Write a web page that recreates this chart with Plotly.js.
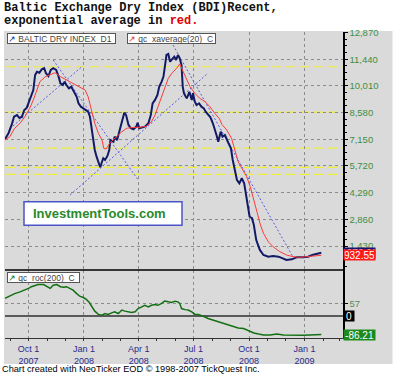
<!DOCTYPE html>
<html>
<head>
<meta charset="utf-8">
<script src="https://cdn.plot.ly/plotly-3.0.1.min.js"></script>
<style>html,body{margin:0;padding:0;background:#fff;}#chart{width:400px;height:374px;}</style>
</head>
<body>
<div id="chart"></div>
<script>
// ---------- DATA ----------
const bdiDates = ["2007-08-23","2007-08-29","2007-09-03","2007-09-07","2007-09-12","2007-09-16","2007-09-20","2007-09-24","2007-09-28","2007-10-02","2007-10-06","2007-10-09","2007-10-12","2007-10-15","2007-10-19","2007-10-23","2007-10-27","2007-10-30","2007-11-03","2007-11-07","2007-11-11","2007-11-16","2007-11-20","2007-11-23","2007-11-27","2007-11-30","2007-12-03","2007-12-07","2007-12-11","2007-12-15","2007-12-20","2007-12-23","2007-12-27","2007-12-31","2008-01-04","2008-01-08","2008-01-11","2008-01-14","2008-01-16","2008-01-19","2008-01-22","2008-01-25","2008-01-28","2008-01-31","2008-02-02","2008-02-05","2008-02-09","2008-02-12","2008-02-14","2008-02-19","2008-02-21","2008-02-25","2008-02-28","2008-03-04","2008-03-08","2008-03-11","2008-03-15","2008-03-19","2008-03-23","2008-03-28","2008-03-30","2008-04-02","2008-04-06","2008-04-11","2008-04-17","2008-04-21","2008-04-24","2008-04-28","2008-05-02","2008-05-05","2008-05-09","2008-05-12","2008-05-14","2008-05-17","2008-05-20","2008-05-23","2008-05-26","2008-05-30","2008-06-02","2008-06-05","2008-06-08","2008-06-11","2008-06-13","2008-06-15","2008-06-18","2008-06-20","2008-06-24","2008-06-28","2008-06-30","2008-07-03","2008-07-06","2008-07-10","2008-07-14","2008-07-18","2008-07-21","2008-07-25","2008-07-29","2008-08-02","2008-08-05","2008-08-08","2008-08-11","2008-08-15","2008-08-18","2008-08-22","2008-08-28","2008-09-01","2008-09-04","2008-09-08","2008-09-11","2008-09-15","2008-09-19","2008-09-23","2008-09-26","2008-09-28","2008-10-02","2008-10-06","2008-10-09","2008-10-13","2008-10-19","2008-10-25","2008-11-02","2008-11-10","2008-11-19","2008-11-26","2008-12-02","2008-12-11","2008-12-19","2008-12-30","2009-01-07","2009-01-14","2009-01-22","2009-01-29"];
const bdiValues = [7150,7490,7920,8360,8450,8290,8360,8720,8830,9170,9620,9790,10600,10770,10720,10900,10960,10690,10540,10870,10960,10870,10510,10150,10060,10240,10060,9880,9970,9700,9430,9080,8900,8810,8720,8630,8360,7650,7110,6580,6220,5860,5650,5950,6130,6040,6260,6580,7110,7020,7290,7110,7470,8010,8580,8450,7920,7740,7690,7830,8040,7740,7790,7830,8010,8450,9080,9260,9530,9970,10240,10510,10960,11670,11720,11310,11440,11580,11400,11670,11490,11130,9970,9620,9430,9350,9700,9260,9620,9170,8990,9080,8900,8810,8630,8450,8330,8010,7740,7380,7020,7560,7290,7380,6940,6670,6040,5410,4970,4790,5060,4790,4260,3720,3000,2920,2560,1750,1220,950,860,895,860,772,681,718,825,825,858,949,1002,1072];

const emaDates = ["2007-08-23","2007-08-31","2007-09-08","2007-09-17","2007-09-25","2007-10-03","2007-10-09","2007-10-15","2007-10-20","2007-10-29","2007-11-06","2007-11-14","2007-11-23","2007-12-03","2007-12-14","2007-12-25","2008-01-03","2008-01-08","2008-01-14","2008-01-19","2008-01-25","2008-01-31","2008-02-03","2008-02-07","2008-02-13","2008-02-24","2008-03-04","2008-03-12","2008-03-23","2008-04-03","2008-04-14","2008-04-22","2008-04-28","2008-05-03","2008-05-09","2008-05-14","2008-05-20","2008-05-26","2008-06-03","2008-06-08","2008-06-14","2008-06-19","2008-06-25","2008-07-03","2008-07-11","2008-07-20","2008-07-28","2008-08-05","2008-08-13","2008-08-17","2008-08-25","2008-09-02","2008-09-08","2008-09-13","2008-09-19","2008-09-27","2008-10-03","2008-10-09","2008-10-14","2008-10-20","2008-10-25","2008-11-02","2008-11-10","2008-11-21","2008-12-02","2008-12-13","2008-12-24","2009-01-04","2009-01-14","2009-01-29"];
const emaValues = [7110,7290,7740,8010,8360,8810,9260,9790,10240,10510,10600,10720,10510,10330,10150,9970,9790,9430,8720,8010,7470,7110,6660,6630,6950,7290,7560,7740,7790,7790,7860,8090,8450,8900,9430,9970,10420,10690,10960,11190,10770,10330,9970,9620,9350,9170,8900,8550,8250,7950,7650,7200,6580,5950,5600,5150,4610,3900,3180,2560,2110,1660,1390,1130,950,858,825,858,895,932.55];

const rocDates = ["2007-08-23","2007-08-31","2007-09-08","2007-09-17","2007-09-25","2007-10-01","2007-10-06","2007-10-12","2007-10-17","2007-10-26","2007-10-31","2007-11-06","2007-11-11","2007-11-17","2007-11-23","2007-11-28","2007-12-03","2007-12-09","2007-12-14","2007-12-20","2007-12-25","2007-12-31","2008-01-05","2008-01-10","2008-01-14","2008-01-19","2008-01-25","2008-01-31","2008-02-05","2008-02-10","2008-02-16","2008-02-21","2008-02-27","2008-03-04","2008-03-09","2008-03-15","2008-03-20","2008-03-26","2008-03-31","2008-04-06","2008-04-11","2008-04-17","2008-04-22","2008-04-28","2008-05-03","2008-05-09","2008-05-14","2008-05-20","2008-05-26","2008-05-31","2008-06-05","2008-06-08","2008-06-11","2008-06-17","2008-06-22","2008-06-28","2008-07-03","2008-07-09","2008-07-14","2008-07-20","2008-07-25","2008-08-03","2008-08-11","2008-08-19","2008-08-28","2008-09-05","2008-09-13","2008-09-22","2008-09-30","2008-10-09","2008-10-17","2008-10-25","2008-11-05","2008-11-16","2008-11-27","2008-12-08","2008-12-19","2008-12-30","2009-01-10","2009-01-18","2009-01-29"];
const rocValues = [81,93,103,111,119,127,135,142,145,145,135,127,142,145,135,132,135,127,119,103,91,85,76,62,42,22,7,3,11,7,14,19,11,27,22,19,16,19,34,42,49,42,49,53,49,58,69,65,62,68,65,58,34,29,27,19,8,7,3,-5,-12,-20,-30,-35,-43,-51,-56,-58,-69,-79,-84,-88,-88,-84,-88,-89,-89,-89,-88,-87,-86.21];

const levelValues = [11040, 8610, 6680, 5650, 5270];   // yellow horizontal levels

const trendStartDates = ["2007-09-05","2007-11-11","2007-12-09","2008-05-28"];
const trendStartValues = [7860, 11400, 4165, 12200];
const trendEndDates = ["2007-12-30","2008-03-31","2008-07-25","2008-12-13"];
const trendEndValues = [11080, 4970, 10700, 842];

const xTickDates = ["2007-10-01","2008-01-01","2008-04-01","2008-07-01","2008-10-01","2009-01-01"];
const xTickLabels = ["Oct 1<br>2007","Jan 1<br>2008","Apr 1<br>2008","Jul 1<br>2008","Oct 1<br>2008","Jan 1<br>2009"];
const rocTickValues = [57];
const xRange = ["2007-08-23","2009-03-06"];

// ---------- LAYOUT HELPERS ----------
const ML = 5, MR = 57, MT = 32, MB = 36, W = 400, H = 374;
const PW = W - ML - MR, PH = H - MT - MB;
const px = x => (x - ML) / PW;
const py = y => (H - MB - y) / PH;
const split = py(270);

const gridCol = '#8c8c8c';
const traces = [];
for (let i = 0; i < trendStartDates.length; i++) {
  traces.push({x:[trendStartDates[i], trendEndDates[i]], y:[trendStartValues[i], trendEndValues[i]],
    type:'scatter', mode:'lines', xaxis:'x', yaxis:'y', hoverinfo:'skip',
    line:{color:'#5a5ae6', width:1, dash:'2px,2px'}});
}
traces.push({x:bdiDates, y:bdiValues, type:'scatter', mode:'lines', xaxis:'x', yaxis:'y',
  line:{color:'#121a66', width:2}});
traces.push({x:emaDates, y:emaValues, type:'scatter', mode:'lines', xaxis:'x', yaxis:'y',
  line:{color:'#ff3a3a', width:1}});
traces.push({x:rocDates, y:rocValues, type:'scatter', mode:'lines', xaxis:'x2', yaxis:'y2',
  line:{color:'#127012', width:1.5}});

const shapes = [
  {type:'rect', xref:'paper', yref:'paper', x0:px(4), x1:px(392.5), y0:py(364), y1:py(31),
   fillcolor:'#dadada', line:{width:0}, layer:'below'},
  {type:'line', xref:'paper', yref:'paper', x0:0, x1:1, y0:split, y1:split,
   line:{color:'#000', width:1.5}, layer:'above'},
  {type:'rect', xref:'paper', yref:'paper', x0:px(24), x1:px(182), y0:py(225.3), y1:py(201.7),
   fillcolor:'#ffffff', line:{color:'#4a55c8', width:1.5}, layer:'above'}
];
levelValues.forEach(v => shapes.push({type:'line', xref:'paper', yref:'y', x0:0, x1:1, y0:v, y1:v,
  line:{color:'#eded3a', width:1.2, dash:'10px,4px'}, layer:'below'}));

function boxLabel(text, x, y, w, color) {
  return {xref:'paper', yref:'paper', x:px(x), y:py(y), xanchor:'left', yanchor:'top',
    text:'<span style="color:' + color + '">↗</span> ' + text, showarrow:false, align:'left',
    font:{family:'Arial, Liberation Sans', size:8.5, color:'#444'},
    bgcolor:'#ffffff', bordercolor:'#555', borderwidth:1, borderpad:0, width:w, height:9};
}
function valueLabel(v, yref, bg, w) {
  return {xref:'paper', yref:yref, x:1, y:v, xanchor:'left', yanchor:'middle',
    text:(v === 0 ? '0' : v.toFixed(2)), showarrow:false,
    font:{family:'Arial, Liberation Sans', size:10, color:'#ffffff'},
    bgcolor:bg, borderpad:0.5, width:w, height:9};
}

const annotations = [
  {xref:'paper', yref:'paper', x:px(3), y:py(7.5), xanchor:'left', yanchor:'middle', showarrow:false,
   text:'<b>Baltic Exchange Dry Index (BDI)Recent,</b>', borderpad:0,
   font:{family:'Liberation Mono, Courier New, monospace', size:12, color:'#111'}},
  {xref:'paper', yref:'paper', x:px(3), y:py(21.5), xanchor:'left', yanchor:'middle', showarrow:false,
   text:'<b>exponential average in <span style="color:#e00000">red.</span></b>', borderpad:0,
   font:{family:'Liberation Mono, Courier New, monospace', size:12, color:'#111'}},
  boxLabel('BALTIC DRY INDEX_D1', 6.7, 32.5, 107, '#2030a0'),
  boxLabel('qc_xaverage(20)_C', 127, 32.5, 87, '#e03030'),
  boxLabel('qc_roc(200)_C', 6.7, 272.3, 71, '#127012'),
  {xref:'paper', yref:'paper', x:px(31), y:py(213.5), xanchor:'left', yanchor:'middle', showarrow:false,
   text:'<b>InvestmentTools.com</b>', font:{family:'Arial, Liberation Sans', size:13, color:'#2a8a2a'}},
  valueLabel(bdiValues[bdiValues.length-1], 'y', '#141470', 30),
  valueLabel(emaValues[emaValues.length-1], 'y', '#ff1a1a', 30),
  valueLabel(0, 'y2', '#000000', 9),
  valueLabel(rocValues[rocValues.length-1], 'y2', '#1e8a1e', 30),
  {xref:'paper', yref:'paper', x:px(1), y:py(369), xanchor:'left', yanchor:'middle', showarrow:false,
   text:'Chart created with NeoTicker EOD © 1998-2007 TickQuest Inc.', borderpad:0,
   font:{family:'Arial, Liberation Sans', size:9.2, color:'#000'}}
];

const xCommon = {type:'date', range:xRange, tickmode:'array', tickvals:xTickDates,
  showgrid:true, gridcolor:gridCol, griddash:'3px,3px', gridwidth:1, zeroline:false};

const layout = {
  width:W, height:H, margin:{l:ML, r:MR, t:MT, b:MB, pad:0},
  paper_bgcolor:'#ffffff', plot_bgcolor:'#dadada', showlegend:false,
  font:{family:'Arial, Liberation Sans', size:9.5},
  xaxis:Object.assign({}, xCommon, {anchor:'y', showticklabels:false, ticks:'', showline:false}),
  xaxis2:Object.assign({}, xCommon, {anchor:'y2', ticktext:xTickLabels, ticks:'outside', ticklen:2,
    tickcolor:'#333', showline:true, linecolor:'#333', linewidth:1,
    tickfont:{family:'Arial, Liberation Sans', size:9, color:'#2a2a8a'},
    minor:{tickmode:'linear', tick0:'2007-09-01', dtick:'M1', ticks:'outside', ticklen:2, tickcolor:'#333', showgrid:false}}),
  yaxis:{domain:[split, 1], anchor:'x', side:'right', range:[145, 12902], tickmode:'linear', tick0:0, dtick:1430,
    tickformat:',d', ticks:'outside', ticklen:3, tickcolor:'#000', showline:true, linecolor:'#000', linewidth:1.5,
    tickfont:{family:'Arial, Liberation Sans', size:9.5, color:'#3f8f3f'},
    showgrid:true, gridcolor:gridCol, griddash:'3px,3px', gridwidth:1, zeroline:false,
    minor:{tickmode:'linear', tick0:0, dtick:357.5, ticks:'outside', ticklen:2, tickcolor:'#000', showgrid:false}},
  yaxis2:{domain:[0, split], anchor:'x2', side:'right', range:[-102, 212], tickmode:'array', tickvals:rocTickValues,
    ticks:'outside', ticklen:3, tickcolor:'#000', showline:true, linecolor:'#000', linewidth:1.5,
    tickfont:{family:'Arial, Liberation Sans', size:9.5, color:'#5a8a5a'},
    showgrid:true, gridcolor:gridCol, griddash:'3px,3px', gridwidth:1,
    zeroline:true, zerolinecolor:'#5a5a5a', zerolinewidth:2},
  shapes:shapes, annotations:annotations
};

Plotly.newPlot('chart', traces, layout, {staticPlot:true, displayModeBar:false});
</script>
</body>
</html>
